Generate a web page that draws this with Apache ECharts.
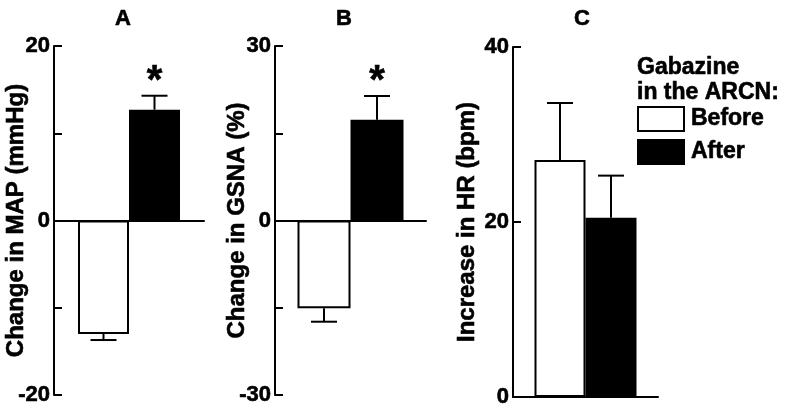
<!DOCTYPE html>
<html>
<head>
<meta charset="utf-8">
<script src="https://cdn.jsdelivr.net/npm/echarts@6/dist/echarts.min.js"></script>
<style>
html,body{margin:0;padding:0;background:#fff;}
#c{width:788px;height:409px;}
</style>
</head>
<body>
<div id="c"></div>
<script>
// ---- data ----
const groups = ['Before', 'After'];
const panelTitles = ['A', 'B', 'C'];
const yNames = ['Change in MAP (mmHg)', 'Change in GSNA (%)', 'Increase in HR (bpm)'];
const mapMeans = [-13.0, 12.7];
const mapErr = [0.7, 1.6];
const gsnaMeans = [-15.1, 17.3];
const gsnaErr = [2.3, 4.1];
const hrMeans = [27.1, 20.5];
const hrErr = [6.5, 4.8];
const stars = [[false, true], [false, true], [false, false]];
const yMin = [-20, -30, 0];
const yMax = [20, 30, 40];
const yTickStep = [10, 15, 20];
const yLabelStep = [20, 30, 20];
const legendTitle = 'Gabazine\nin the ARCN:';

const means = [mapMeans, gsnaMeans, hrMeans];
const errs = [mapErr, gsnaErr, hrErr];

// ---- layout / style ----
const FONT = 'Liberation Sans';
const HEAVY = {textBorderColor: '#000', textBorderWidth: 0.6};
const grids = [
  {left: 54, top: 46, width: 150, height: 349, outerBoundsMode: 'none', containLabel: false},
  {left: 275, top: 46, width: 151, height: 349, outerBoundsMode: 'none', containLabel: false},
  {left: 513, top: 47, width: 145, height: 350, outerBoundsMode: 'none', containLabel: false}
];
const BAR_W = [51, 53, 51];
const titleX = [118, 339, 577];
const nameGaps = [26, 26, 34];
const colors = ['#ffffff', '#000000'];

const chart = echarts.init(document.getElementById('c'), null, {renderer: 'canvas'});

const xAxes = [], yAxes = [], series = [], titles = [];
for (let p = 0; p < 3; p++) {
  titles.push({
    text: panelTitles[p], left: titleX[p], top: 3, textAlign: 'center',
    textStyle: Object.assign({fontFamily: FONT, fontWeight: 'bold', fontSize: 22, color: '#000'}, HEAVY)
  });
  xAxes.push({
    type: 'category', gridIndex: p, data: [''],
    axisLine: {show: true, onZero: true, lineStyle: {color: '#000', width: 2}},
    axisTick: {show: false}, axisLabel: {show: false}
  });
  const step = yLabelStep[p];
  yAxes.push({
    type: 'value', gridIndex: p, min: yMin[p], max: yMax[p], interval: yTickStep[p],
    name: yNames[p], nameLocation: 'middle', nameGap: nameGaps[p], nameRotate: 90, nameMoveOverlap: false,
    nameTextStyle: Object.assign({fontFamily: FONT, fontWeight: 'bold', fontSize: 24, color: '#000'}, HEAVY),
    axisLine: {show: true, lineStyle: {color: '#000', width: 2}},
    axisTick: {show: true, inside: true, length: 8, lineStyle: {color: '#000', width: 2}},
    axisLabel: Object.assign({
      margin: 4, fontFamily: FONT, fontWeight: 'bold', fontSize: 22, color: '#000',
      formatter: v => (Math.round(v) % step === 0 ? String(v) : '')
    }, HEAVY),
    splitLine: {show: false}
  });
  for (let s = 0; s < 2; s++) {
    series.push({
      type: 'bar', name: groups[s], xAxisIndex: p, yAxisIndex: p,
      data: [means[p][s]], barWidth: BAR_W[p], barGap: '0%',
      itemStyle: {color: colors[s], borderColor: '#000', borderWidth: 2},
      emphasis: {disabled: true}, silent: true, z: 2
    });
  }
  const ebData = [];
  for (let s = 0; s < 2; s++) ebData.push([0, means[p][s], errs[p][s], s, stars[p][s] ? 1 : 0]);
  const bw = BAR_W[p];
  series.push({
    type: 'custom', xAxisIndex: p, yAxisIndex: p, data: ebData, z: 1, silent: true,
    clip: false, encode: {x: 0, y: 1},
    renderItem: function (params, api) {
      const v = api.value(1), e = api.value(2), s = api.value(3), st = api.value(4);
      const off = (s === 0 ? -1 : 1) * bw / 2;
      const base = api.coord([0, v]);
      const end = api.coord([0, v >= 0 ? v + e : v - e]);
      const x = base[0] + off;
      const cap = 13;
      const children = [
        {type: 'line', shape: {x1: x, y1: base[1], x2: x, y2: end[1]}, style: {stroke: '#000', lineWidth: 2}},
        {type: 'line', shape: {x1: x - cap, y1: end[1], x2: x + cap, y2: end[1]}, style: {stroke: '#000', lineWidth: 2}}
      ];
      if (st) {
        children.push({type: 'text', style: {text: '*', x: x, y: end[1] + 6, textAlign: 'center', textVerticalAlign: 'bottom',
          font: 'bold 40px "' + FONT + '"', fill: '#000', stroke: '#000', lineWidth: 0.6}});
      }
      return {type: 'group', children: children};
    }
  });
}
titles.push({
  text: legendTitle, left: 632, top: 50,
  textStyle: Object.assign({fontFamily: FONT, fontWeight: 'bold', fontSize: 23, lineHeight: 25, color: '#000'}, HEAVY)
});

chart.setOption({
  animation: false,
  backgroundColor: '#fff',
  title: titles,
  grid: grids,
  xAxis: xAxes,
  yAxis: yAxes,
  legend: {
    data: groups, orient: 'vertical', left: 637, top: 106, padding: 0, itemWidth: 46, itemHeight: 24, itemGap: 7,
    icon: 'rect', selectedMode: false,
    textStyle: Object.assign({fontFamily: FONT, fontWeight: 'bold', fontSize: 23, color: '#000', padding: [0, 0, 0, 2]}, HEAVY)
  },
  series: series
});
</script>
</body>
</html>
